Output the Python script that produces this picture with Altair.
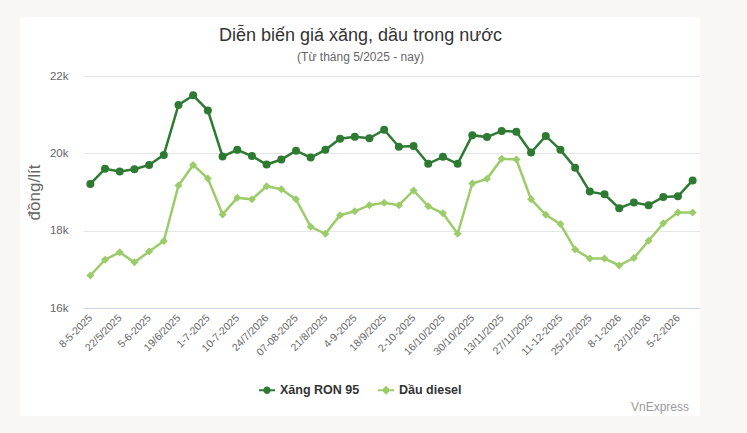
import altair as alt
import pandas as pd

# ---- data ----
dates = ["8-5-2025", "15/5/2025", "22/5/2025", "29/5/2025", "5-6-2025", "12/6/2025",
         "19/6/2025", "24/6/2025", "1-7-2025", "3-7-2025", "10-7-2025", "17/7/2025",
         "24/7/2026", "31/7/2025", "07-08-2025", "14/8/2025", "21/8/2025", "28/8/2025",
         "4-9-2025", "11/9/2025", "18/9/2025", "25/9/2025", "2-10-2025", "9/10/2025",
         "16/10/2025", "23/10/2025", "30/10/2025", "6/11/2025", "13/11/2025", "20/11/2025",
         "27/11/2025", "4/12/2025", "11-12-2025", "18/12/2025", "25/12/2025", "1/1/2026",
         "8-1-2026", "15/1/2026", "22/1/2026", "29/1/2026", "5-2-2026", "12/2/2026"]
shown_labels = dates[::2]

ron95 = [19210, 19600, 19530, 19590, 19700, 19960, 21250, 21500, 21110, 19920,
         20090, 19930, 19710, 19840, 20070, 19890, 20090, 20380, 20430, 20390,
         20610, 20170, 20190, 19730, 19910, 19730, 20470, 20420, 20580, 20560,
         20020, 20450, 20090, 19630, 19010, 18940, 18580, 18730, 18660, 18870,
         18890, 19300]
diesel = [16840, 17250, 17440, 17180, 17460, 17730, 19170, 19700, 19350, 18420,
          18850, 18810, 19150, 19070, 18810, 18100, 17920, 18400, 18500, 18660,
          18720, 18660, 19040, 18630, 18450, 17920, 19220, 19340, 19860, 19840,
          18810, 18410, 18170, 17510, 17280, 17280, 17100, 17290, 17740, 18190,
          18470, 18470]

series_names = ["Xăng RON 95", "Dầu diesel"]
series_colors = ["#2e7a33", "#9ccb6a"]
y_ticks = [16000, 18000, 20000, 22000]

df = pd.DataFrame({
    "date": dates * 2,
    "series": [series_names[0]] * len(dates) + [series_names[1]] * len(dates),
    "value": ron95 + diesel,
})

FONT = "Liberation Sans"
PAGE = "#f8f7f3"

x_enc = alt.X("date:N", sort=dates,
              scale=alt.Scale(type="point", padding=0.5),
              axis=alt.Axis(values=shown_labels, title=None, labelAngle=-45,
                            labelAlign="right", labelBaseline="middle",
                            labelFont=FONT, labelFontSize=10.5, labelColor="#666666",
                            labelPadding=8, ticks=False, domainColor="#ccd6eb",
                            grid=False, labelOverlap=False))
y_enc = alt.Y("value:Q",
              scale=alt.Scale(domain=[16000, 22000], nice=False, zero=False),
              axis=alt.Axis(values=y_ticks, labelExpr="datum.value / 1000 + 'k'",
                            title="đồng/lít", titleFont=FONT, titleFontSize=17,
                            titleFontWeight="normal", titleColor="#666666",
                            titlePadding=6, labelFont=FONT, labelFontSize=11.5,
                            labelColor="#666666", labelPadding=15, ticks=False,
                            domain=False, gridColor="#e6e6e6"))

color_plain = alt.Color("series:N", scale=alt.Scale(domain=series_names, range=series_colors),
                        legend=None)

one = pd.DataFrame({"a": [0]})
def strip(x, x2, y, y2):
    return alt.Chart(one).mark_rect(color=PAGE).encode(
        x=alt.value(x), x2=alt.value(x2), y=alt.value(y), y2=alt.value(y2))

# page margins around the white card (card spans 20..700 x 17..416 in the page)
strips = [strip(-83, -63, -76, 357), strip(617, 664, -76, 357),
          strip(-83, 664, -76, -59), strip(-83, 664, 340, 357)]

lines = alt.Chart(df).mark_line(strokeWidth=2.5).encode(
    x=x_enc, y=y_enc, color=color_plain, detail="series:N")

points = alt.Chart(df).mark_point(filled=True, opacity=1).encode(
    x=x_enc, y=y_enc, color=color_plain,
    shape=alt.Shape("series:N", scale=alt.Scale(domain=series_names, range=["circle", "diamond"]),
                    legend=None),
    size=alt.value(64))

circle_line = ("M-1,-0.13H-0.42V0.13H-1Z M0.42,-0.13H1V0.13H0.42Z "
               "M0.46,0 A0.46,0.46 0 1,1 -0.46,0 A0.46,0.46 0 1,1 0.46,0 Z")
diamond_line = ("M-1,-0.13H-0.5V0.13H-1Z M0.5,-0.13H1V0.13H0.5Z "
                "M0,-0.55L0.55,0L0,0.55L-0.55,0Z")

leg = alt.Legend(title=None, orient="none", direction="horizontal",
                 legendX=176, legendY=306, labelFont=FONT, labelFontSize=12.5,
                 labelFontWeight="bold", labelColor="#333333", symbolSize=256,
                 symbolStrokeWidth=0, symbolOpacity=1, columnPadding=18,
                 labelOffset=5)

legend_layer = alt.Chart(df).mark_point(filled=True, opacity=0).encode(
    x=x_enc, y=y_enc,
    color=alt.Color("series:N", scale=alt.Scale(domain=series_names, range=series_colors),
                    legend=leg),
    shape=alt.Shape("series:N", scale=alt.Scale(domain=series_names,
                                                range=[circle_line, diamond_line]),
                    legend=leg))

credit = alt.Chart(pd.DataFrame({"t": ["VnExpress"]})).mark_text(
    align="right", baseline="middle", font=FONT, fontSize=12, color="#9a9a9a").encode(
    text="t:N", x=alt.value(606), y=alt.value(331))

chart = alt.layer(*strips, lines, points, legend_layer, credit).resolve_scale(
    color="independent", shape="independent"
).properties(
    width=617, height=232,
    padding={"left": 83, "top": 76, "right": 47, "bottom": 125},
    autosize=alt.AutoSizeParams(type="none"),
    background="white",
    title=alt.TitleParams(text="Diễn biến giá xăng, dầu trong nước",
                          subtitle="(Từ tháng 5/2025 - nay)",
                          font=FONT, fontSize=18, fontWeight="normal", color="#333333",
                          subtitleFont=FONT, subtitleFontSize=12, subtitleColor="#666666",
                          subtitlePadding=7, anchor="middle", frame="group", dx=-31,
                          offset=-63),
).configure_view(stroke=None)

chart.save("out.html", embed_options={"renderer": "svg", "actions": False})
